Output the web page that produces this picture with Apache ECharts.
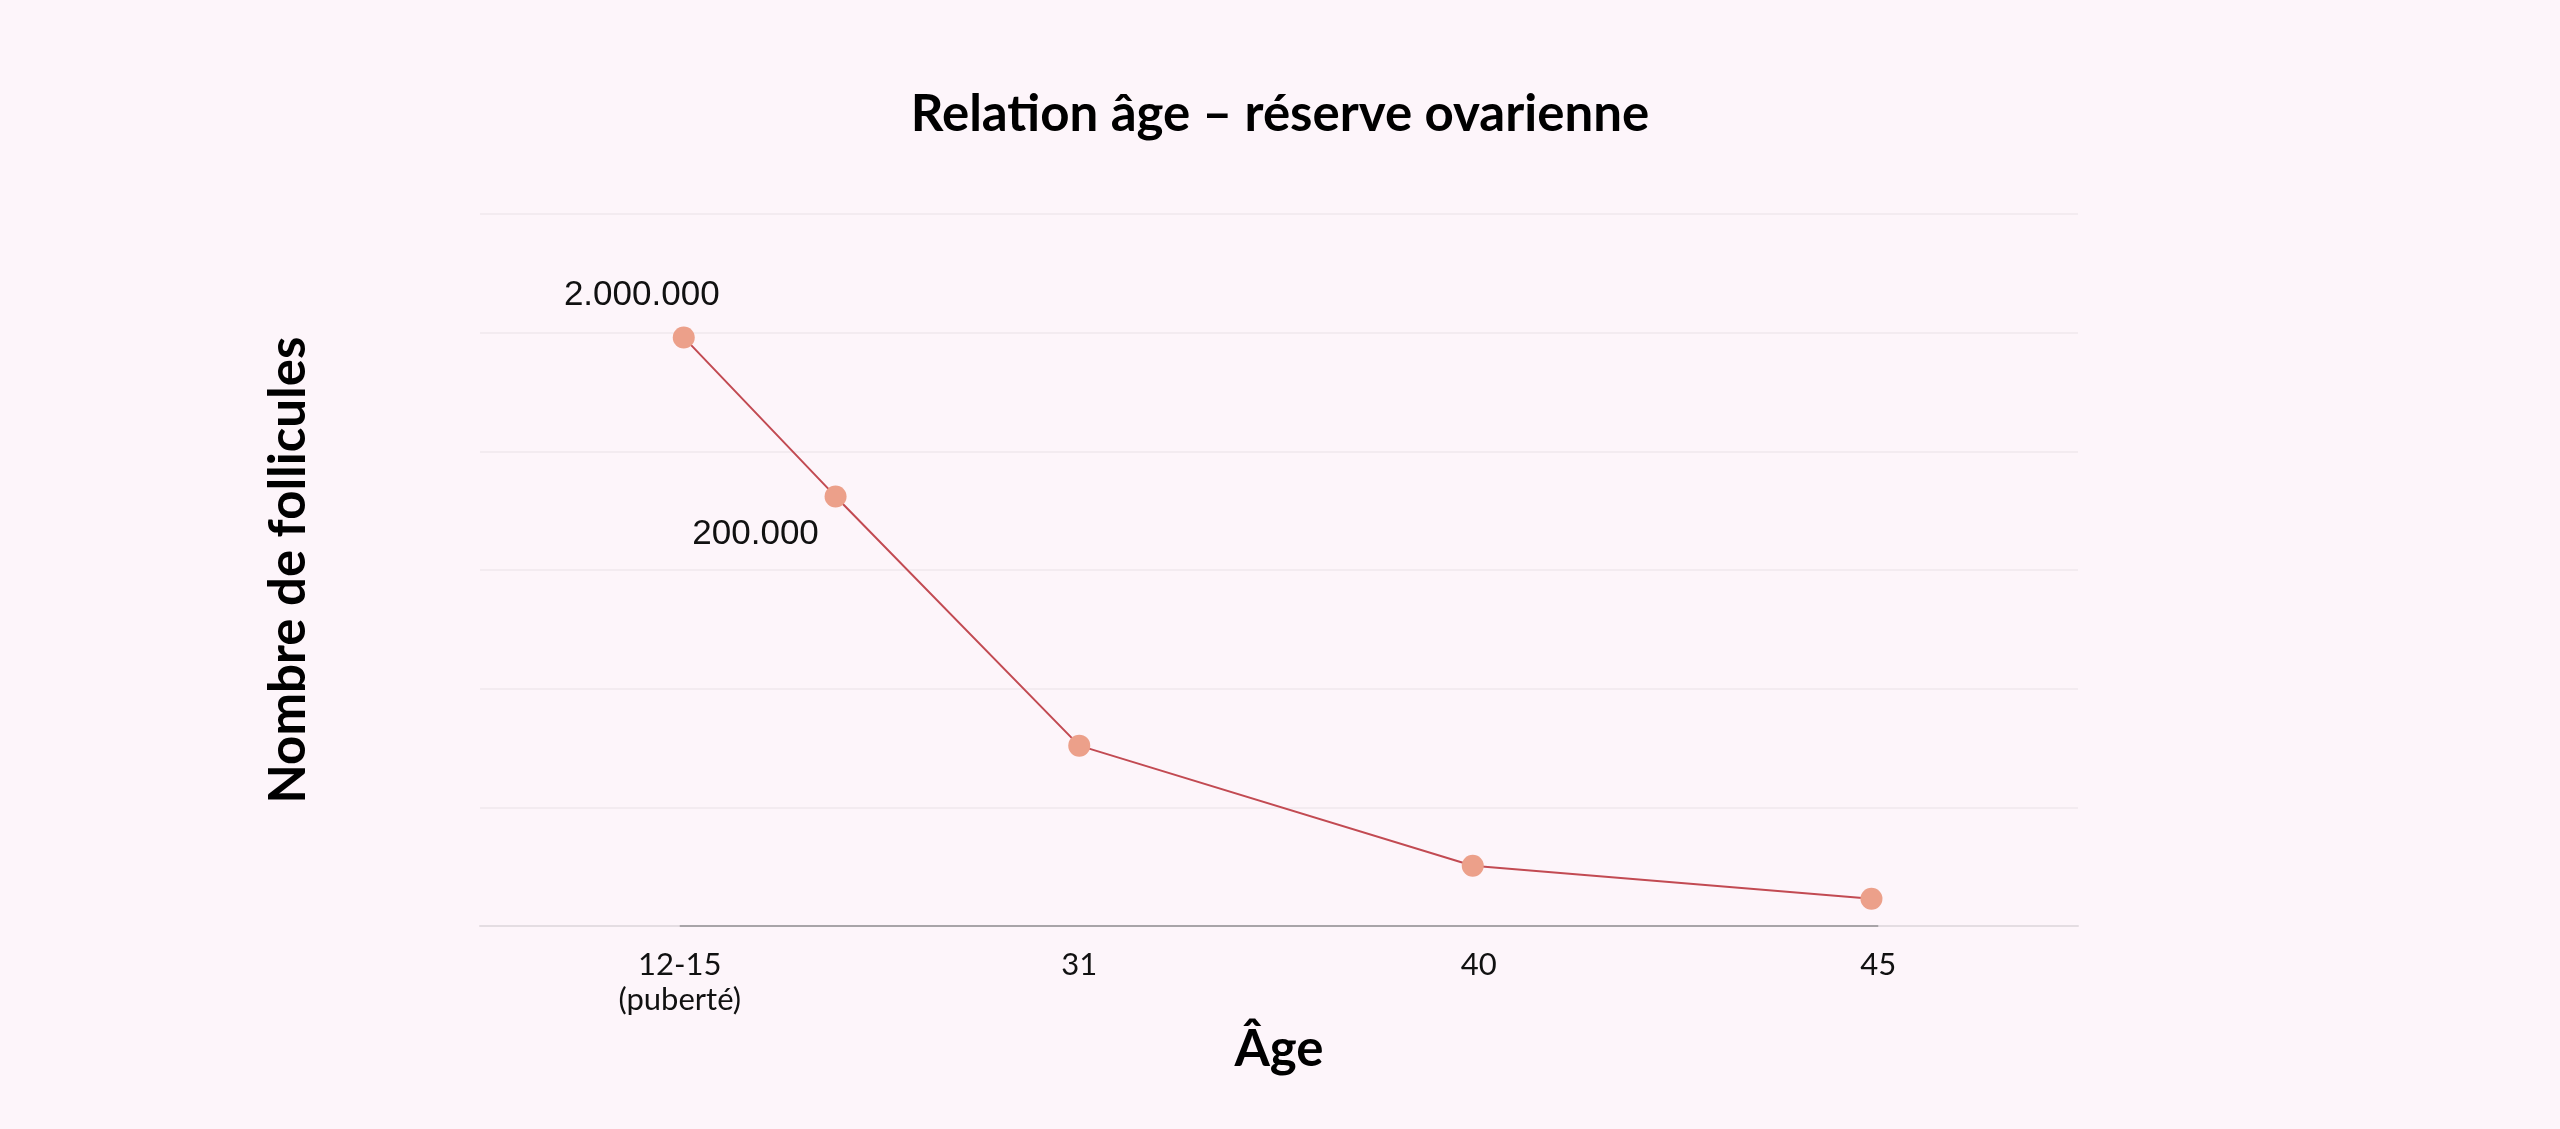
<!DOCTYPE html>
<html>
<head>
<meta charset="utf-8">
<script src="https://cdn.jsdelivr.net/npm/echarts@6/dist/echarts.min.js"></script>
<style>
html,body{margin:0;padding:0;background:#fdf5fa;}
#chart{width:2560px;height:1129px;}
</style>
</head>
<body>
<div id="chart"></div>
<script>
// ---- data ----
const categories = ["12-15\n(puberté)", "31", "40", "45"];
const pointPositions = [0.01, 0.39, 1.0, 1.985, 2.983];   // position along the category axis
const follicleValues = [248, 181, 76, 25.4, 11.5];        // relative scale (no y labels shown)
const pointLabels = ["2.000.000", "200.000", "", "", ""];
const titleText = "Relation âge – réserve ovarienne";
const xName = "Âge";
const yName = "Nombre de follicules";

// ---- build ----
const labelPlacement = [
  {position: 'top', offset: [-42, -9]},
  {position: 'bottom', offset: [-80, 4]}
];
const seriesData = follicleValues.map((v, i) => {
  const item = {value: [pointPositions[i], v]};
  if (pointLabels[i]) {
    item.label = Object.assign({show: true, formatter: pointLabels[i]}, labelPlacement[i]);
  }
  return item;
});

const chart = echarts.init(document.getElementById('chart'), null, {renderer: 'canvas'});
chart.setOption({
  backgroundColor: '#fdf5fa',
  animation: false,
  title: {
    text: titleText,
    left: 'center',
    top: 84,
    textStyle: {fontFamily: 'Lato', fontWeight: 'bold', fontSize: 51, color: '#000'}
  },
  grid: {left: 480, right: 482, top: 214, bottom: 203},
  xAxis: [{
    type: 'category',
    data: categories,
    boundaryGap: true,
    name: xName,
    nameLocation: 'middle',
    nameGap: 98,
    nameTextStyle: {fontFamily: 'Lato', fontWeight: 'bold', fontSize: 51, color: '#000'},
    axisLine: {lineStyle: {color: '#e4dde2', width: 2}},
    axisTick: {alignWithLabel: true, length: 3, lineStyle: {color: '#9a9a9a', width: 2}},
    axisLabel: {fontFamily: 'Lato', fontSize: 31, color: '#111', margin: 21, lineHeight: 35},
    splitLine: {show: false}
  }, {
    type: 'value',
    min: -0.5,
    max: 3.5,
    show: false
  }],
  yAxis: {
    type: 'value',
    min: 0,
    max: 300,
    interval: 50,
    name: yName,
    nameLocation: 'middle',
    nameGap: 166,
    nameRotate: 90,
    nameTextStyle: {fontFamily: 'Lato', fontWeight: 'bold', fontSize: 51, color: '#000'},
    axisLine: {show: false},
    axisTick: {show: false},
    axisLabel: {show: false},
    splitLine: {lineStyle: {color: '#efe7ec', width: 1.5}}
  },
  series: [{
    type: 'line',
    xAxisIndex: 1,
    data: seriesData,
    symbol: 'circle',
    symbolSize: 22,
    z: 3,
    lineStyle: {color: '#c24a52', width: 2},
    itemStyle: {color: '#eca08a'},
    label: {fontFamily: 'Liberation Sans', fontSize: 35, color: '#111'},
    markLine: {
      silent: true,
      symbol: 'none',
      label: {show: false},
      lineStyle: {color: '#a8a4a8', width: 2, type: 'solid'},
      z: 1,
      data: [[{coord: [0, 0]}, {coord: [categories.length - 1, 0]}]]
    }
  }]
});
</script>
</body>
</html>
